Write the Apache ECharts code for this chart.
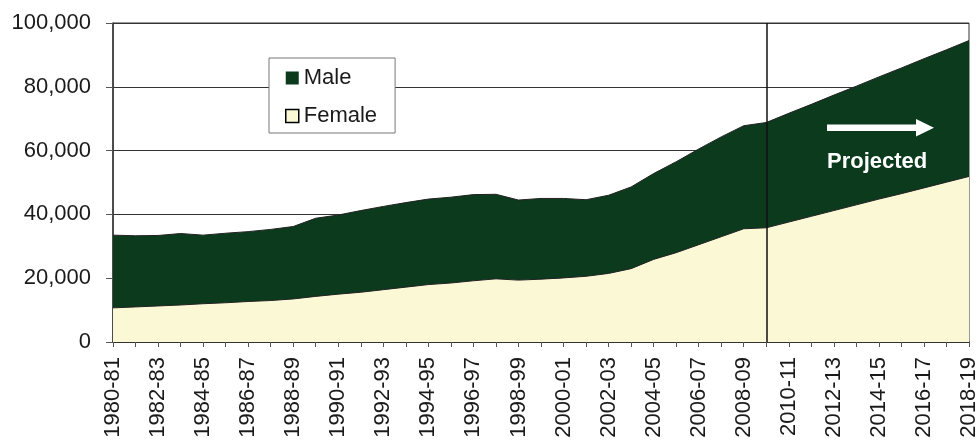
<!DOCTYPE html>
<html lang="en">

<head>
    <meta charset="UTF-8">
    <title>Male / Female</title>
    <style>
        html, body { margin: 0; padding: 0; background: #fff; }
    </style>
</head>

<body>

    <div id="chart" style="width:980px; height:442px;"></div>
    <script src="https://cdn.jsdelivr.net/npm/echarts@6/dist/echarts.min.js"></script>
    <script>
        let myChart = echarts.init(document.getElementById('chart'))

        const years = ['1980-81', '1981-82', '1982-83', '1983-84', '1984-85', '1985-86', '1986-87', '1987-88',
            '1988-89', '1989-90', '1990-91', '1991-92', '1992-93', '1993-94', '1994-95', '1995-96', '1996-97',
            '1997-98', '1998-99', '1999-00', '2000-01', '2001-02', '2002-03', '2003-04', '2004-05', '2005-06',
            '2006-07', '2007-08', '2008-09', '2009-10', '2010-11', '2011-12', '2012-13', '2013-14', '2014-15',
            '2015-16', '2016-17', '2017-18', '2018-19']
        const female = [10700, 11000, 11300, 11600, 12000, 12300, 12700, 13000, 13500, 14300, 15000, 15600,
            16400, 17200, 18000, 18500, 19200, 19800, 19400, 19700, 20100, 20600, 21500, 23000, 25900, 28000,
            30500, 33000, 35500, 35800, 37600, 39400, 41200, 43000, 44800, 46500, 48300, 50100, 51900]
        const male = [22800, 22300, 22100, 22400, 21500, 21800, 21900, 22300, 22700, 24500, 24800, 25600,
            26100, 26500, 26800, 26900, 27000, 26500, 25100, 25300, 24900, 24000, 24500, 25600, 26900, 28500,
            30000, 31300, 32300, 33000, 34100, 35100, 36200, 37200, 38300, 39400, 40500, 41500, 42600]
        const projectedFrom = '2009-10'

        const green = '#0b3a1d'
        const cream = '#fbf8d6'
        const font = 'Liberation Sans, Arial, sans-serif'

        const option = {
            animation: false,
            grid: {
                left: 113,
                right: 4,
                top: 23,
                bottom: 100,
                show: true,
                borderColor: '#333',
                borderWidth: 1
            },
            legend: {
                data: [
                    { name: 'Male' },
                    { name: 'Female', itemStyle: { borderColor: '#000', borderWidth: 1.5 } }
                ],
                orient: 'vertical',
                left: 269,
                top: 58,
                icon: 'rect',
                itemWidth: 13,
                itemHeight: 13,
                itemGap: 16,
                padding: [9, 18, 6, 16],
                backgroundColor: '#fff',
                borderColor: '#777',
                borderWidth: 1,
                textStyle: { fontFamily: font, fontSize: 22, color: '#1a1a1a' }
            },
            xAxis: {
                type: 'category',
                data: years,
                boundaryGap: false,
                axisLine: { lineStyle: { color: '#333', width: 1.5 } },
                axisTick: { interval: 0, length: 5, lineStyle: { color: '#555' } },
                axisLabel: {
                    interval: 1,
                    rotate: 90,
                    margin: 15,
                    color: '#1a1a1a',
                    fontFamily: font,
                    fontSize: 22
                }
            },
            yAxis: {
                type: 'value',
                min: 0,
                max: 100000,
                interval: 20000,
                axisLine: { show: true, lineStyle: { color: '#333', width: 1.5 } },
                axisTick: { show: true, length: 7, lineStyle: { color: '#555' } },
                splitLine: { lineStyle: { color: '#333', width: 1.2 } },
                axisLabel: {
                    margin: 22,
                    color: '#1a1a1a',
                    fontFamily: font,
                    fontSize: 22,
                    formatter: v => v.toLocaleString('en-US')
                }
            },
            series: [{
                name: 'Female',
                type: 'line',
                stack: 'all',
                data: female,
                showSymbol: false,
                itemStyle: { color: cream },
                lineStyle: { color: '#222', width: 1 },
                areaStyle: { color: cream, opacity: 1 }
            }, {
                name: 'Male',
                type: 'line',
                stack: 'all',
                data: male,
                showSymbol: false,
                itemStyle: { color: green },
                lineStyle: { color: '#222', width: 1 },
                areaStyle: { color: green, opacity: 1 },
                markLine: {
                    silent: true,
                    symbol: ['none', 'none'],
                    label: { show: false },
                    lineStyle: { color: '#111', type: 'solid', width: 1.5 },
                    data: [{ xAxis: projectedFrom }]
                }
            }],
            graphic: [{
                type: 'polygon',
                z: 100,
                shape: {
                    points: [[827, 124.5], [916, 124.5], [916, 119], [934, 127.7], [916, 136.5], [916, 131], [827, 131]]
                },
                style: { fill: '#fff' }
            }, {
                type: 'text',
                z: 100,
                left: 827,
                top: 151,
                style: {
                    text: 'Projected',
                    fill: '#fff',
                    fontFamily: font,
                    fontWeight: 'bold',
                    fontSize: 22
                }
            }]
        }

        myChart.setOption(option)
    </script>
</body>

</html>
